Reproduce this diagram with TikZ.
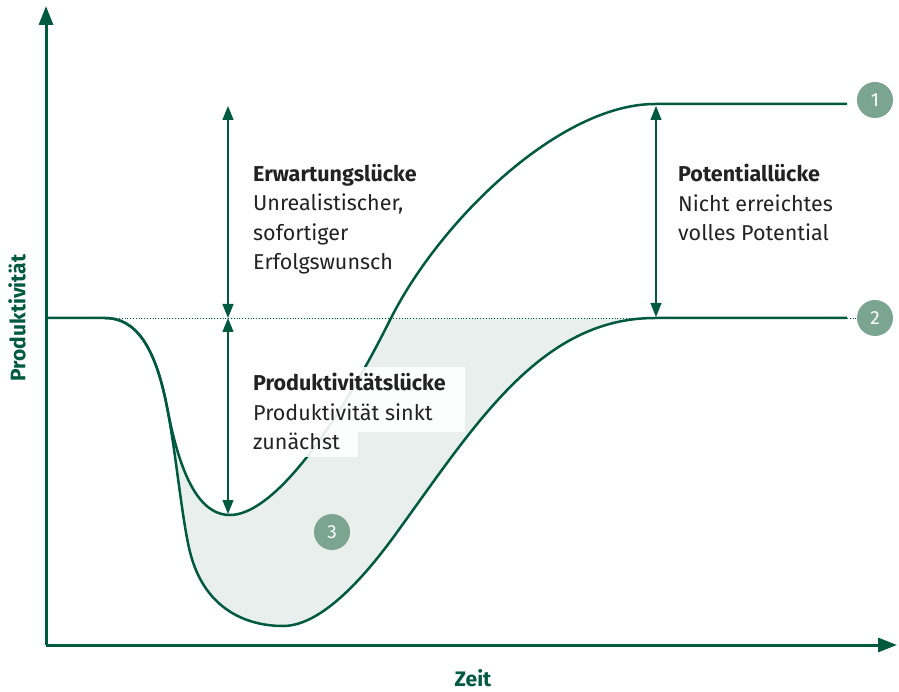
\documentclass[tikz,border=0pt]{standalone}
\usepackage{fontspec}
\setmainfont{Fira Sans}
\usetikzlibrary{arrows.meta}
\definecolor{darkgreen}{HTML}{005A3E}
\definecolor{gapgreen}{HTML}{E8EFEC}
\definecolor{markgreen}{HTML}{7BA491}
\definecolor{textgray}{HTML}{222222}
\tikzset{
  axis/.style={line width=3pt,darkgreen,-{Triangle[length=19pt,width=14pt]}},
  curve/.style={line width=2.5pt,darkgreen},
  gap/.style={line width=1.1pt,darkgreen,{Triangle[length=14pt,width=11pt]}-{Triangle[length=14pt,width=11pt]}},
  label/.style={anchor=north west,inner sep=0pt,align=left,text=textgray,font=\fontsize{21.5}{29.5}\selectfont},
  marker/.style={circle,fill=markgreen,minimum size=36pt,inner sep=0pt,text=white,font=\fontsize{19}{19}\selectfont},
  axislabel/.style={text=darkgreen,font=\fontsize{21}{21}\selectfont\bfseries}
}
\begin{document}
\begin{tikzpicture}[x=1pt,y=-1pt]
    \useasboundingbox (0,0) rectangle (899,692);
    \fill[gapgreen] (105,318) .. controls (135,318) and (155,345) .. (167,407) .. controls (176,453) and (182,520) .. (190,552) .. controls (205,612) and (250,626) .. (283,626) .. controls (316,626) and (355,590) .. (395,535) .. controls (475,425) and (540,318) .. (655,318) -- cycle;
    \fill[white] (105,318) .. controls (135,318) and (155,345) .. (167,407) .. controls (178,464) and (195,515) .. (230,515) .. controls (270,515) and (330,440) .. (390,320) -- cycle;
    \draw[darkgreen,line width=0.8pt,dotted] (105,318) -- (858,318);
    \draw[curve] (46,318) -- (105,318) .. controls (135,318) and (155,345) .. (167,407) .. controls (178,464) and (195,515) .. (230,515) .. controls (270,515) and (330,440) .. (390,320) .. controls (440,220) and (560,104) .. (655,104) -- (847,104);
    \draw[curve] (105,318) .. controls (135,318) and (155,345) .. (167,407) .. controls (176,453) and (182,520) .. (190,552) .. controls (205,612) and (250,626) .. (283,626) .. controls (316,626) and (355,590) .. (395,535) .. controls (475,425) and (540,318) .. (655,318) -- (847,318);
    \coordinate (etop) at (228,106);
    \coordinate (emid) at (228,318);
    \coordinate (pbot) at (228,514);
    \coordinate (vtop) at (656,106);
    \coordinate (vbot) at (656,317);
    \draw[gap] (etop) -- (emid);
    \draw[gap] (emid) -- (pbot);
    \draw[gap] (vtop) -- (vbot);
    \fill[white,opacity=0.9] (245,367) rectangle (465,432);
    \fill[white,opacity=0.9] (245,432) rectangle (358,457);
    \node[label] (erw) at (253,164) {\textbf{Erwartungslücke}\\Unrealistischer,\\sofortiger\\Erfolgswunsch};
    \node[label] (prod) at (253,373) {\textbf{Produktivitätslücke}\\Produktivität sinkt\\zunächst};
    \node[label] (pot) at (678,164) {\textbf{Potentiallücke}\\Nicht erreichtes\\volles Potential};
    \node[marker] (m1) at (875,100) {1};
    \node[marker] (m2) at (875,318) {2};
    \node[marker] (m3) at (332,532) {3};
    \coordinate (origin) at (46,645);
    \coordinate (ytip) at (46,6);
    \coordinate (xtip) at (897,645);
    \draw[axis] (origin) -- (ytip);
    \draw[axis] (origin) -- (xtip);
    \node[axislabel,rotate=90] (ylab) at (17,318) {Produktivität};
    \node[axislabel] (xlab) at (473,678) {Zeit};
\end{tikzpicture}
\end{document}
